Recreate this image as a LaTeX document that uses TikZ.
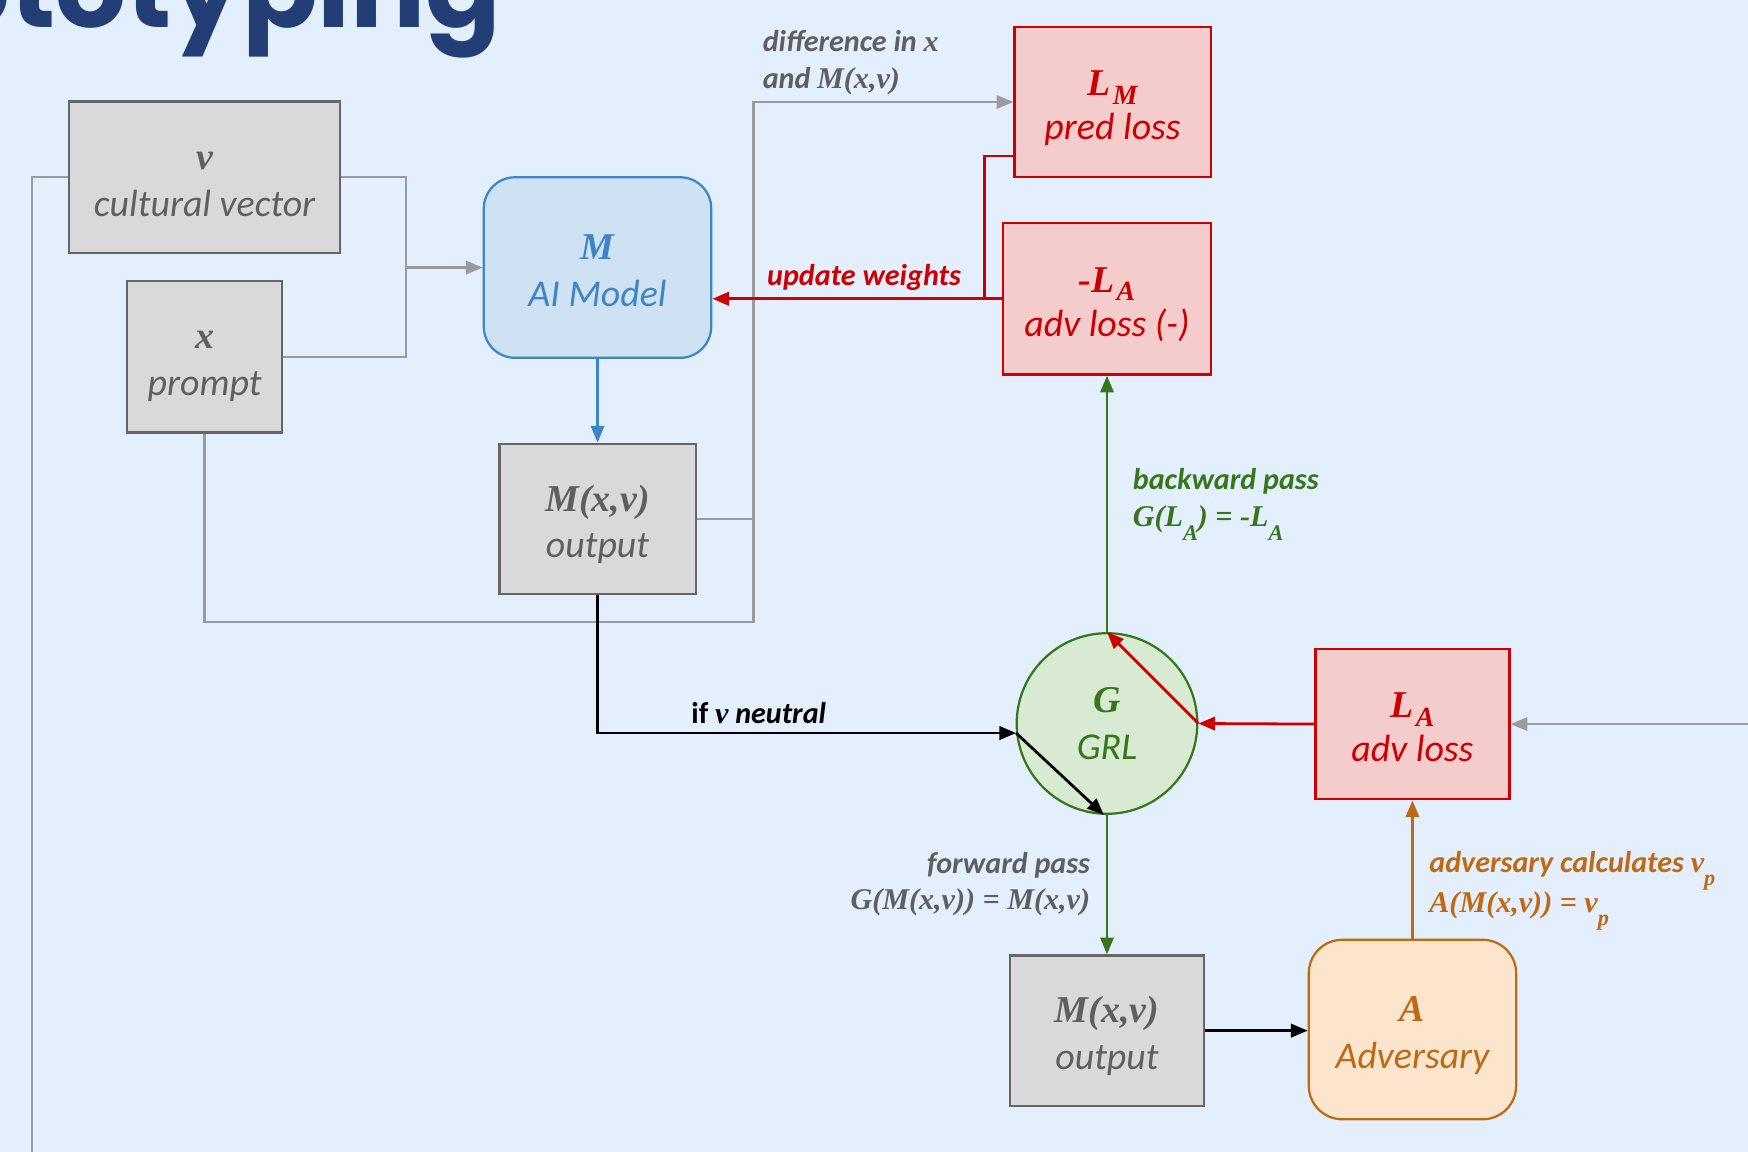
\documentclass[tikz,border=0pt]{standalone}
\usepackage{fontspec}
\setmainfont{Carlito}
\newfontfamily\symfont{Liberation Serif}
\newfontfamily\titlefont{Poppins}
\usetikzlibrary{arrows.meta,calc}

\definecolor{bg}{RGB}{227,239,253}
\definecolor{titleblue}{RGB}{34,62,117}
\definecolor{boxgray}{RGB}{217,217,217}
\definecolor{edgegray}{RGB}{102,102,102}
\definecolor{textgray}{RGB}{95,95,95}
\definecolor{wiregray}{RGB}{155,155,155}
\definecolor{mblue}{RGB}{61,133,198}
\definecolor{mbluefill}{RGB}{207,226,243}
\definecolor{lred}{RGB}{204,0,0}
\definecolor{lredfill}{RGB}{244,204,204}
\definecolor{ggreen}{RGB}{56,118,29}
\definecolor{ggreenfill}{RGB}{217,234,211}
\definecolor{aorange}{RGB}{190,106,20}
\definecolor{aorangefill}{RGB}{252,229,205}

\newcommand{\sym}[1]{{\symfont\bfseries\itshape #1}}
\newcommand{\symr}[1]{{\symfont\itshape #1}}
\newcommand{\lowsub}[1]{\raisebox{-.45em}{\fontsize{20}{20}\selectfont #1}}
\newcommand{\boxsub}[1]{\kern2pt\raisebox{-8pt}{\fontsize{25}{25}\selectfont #1}}

\tikzset{
  shapebase/.style={line width=2pt,align=center,inner sep=0pt,
    font=\fontsize{34}{42}\selectfont\itshape},
  box/.style={shapebase,draw=edgegray,fill=boxgray,text=textgray,
    text height=80pt,text depth=10pt},
  model/.style={box,draw=mblue,fill=mbluefill,text=mblue,rounded corners=28pt},
  loss/.style={shapebase,draw=lred,fill=lredfill,text=lred,
    text height=78pt,text depth=10pt},
  grl/.style={shapebase,circle,draw=ggreen,fill=ggreenfill,text=ggreen},
  advbox/.style={box,draw=aorange,fill=aorangefill,text=aorange,rounded corners=30pt},
  wire/.style={draw=wiregray,line width=2pt},
  tip/.style={-{Triangle[length=15pt,width=12pt]}},
  lbl/.style={inner sep=0pt,align=left,font=\fontsize{27}{33}\selectfont\bfseries\itshape}
}

\begin{document}
\begin{tikzpicture}[x=1pt,y=-1pt]
  \fill[bg] (0,0) rectangle (1568,1033);
  \useasboundingbox (0,0) rectangle (1568,1033);

  \node[anchor=base east,inner sep=0pt,text=titleblue,font=\fontsize{100}{100}\selectfont\titlefont\bfseries] (title) at (450,25) {Prototyping};

  \node[box,minimum width=243pt,minimum height=136pt] (v) at (183.5,159) {\sym{v}\\cultural vector};
  \node[box,minimum width=139pt,minimum height=136pt] (x) at (183.5,320) {\sym{x}\\prompt};
  \node[model,minimum width=204pt,minimum height=162pt] (m) at (536,240) {\sym{M}\\AI Model};
  \node[box,minimum width=176pt,minimum height=135pt] (out) at (536,465.5) {\sym{M(x,v)}\\output};
  \node[loss,minimum width=176pt,minimum height=135pt] (lm) at (998,91.5) {\sym{L\boxsub{M}}\\[-2pt]pred loss};
  \node[loss,minimum width=186pt,minimum height=136pt] (nla) at (993,268) {\sym{-L\boxsub{A}}\\[-2pt]adv loss (-)};
  \node[grl,minimum size=162pt] (g) at (993,649) {\sym{G}\\GRL};
  \node[loss,minimum width=174pt,minimum height=135pt] (la) at (1267,649.5) {\sym{L\boxsub{A}}\\[-2pt]adv loss};
  \node[box,minimum width=174pt,minimum height=135pt] (outb) at (993,924.5) {\sym{M(x,v)}\\output};
  \node[advbox,minimum width=186pt,minimum height=161pt] (adv) at (1267,923.5) {\sym{A}\\Adversary};

  \coordinate (jn) at (364,240);
  \coordinate (cx) at (676,558);
  \coordinate (cr) at (883,268);
  \coordinate (vdown) at (29,1045);
  \coordinate (rin) at (1580,649.5);

  \draw[wire] (v.east) -| (jn) |- (x.east);
  \draw[wire,tip] (jn) -- (m.west);
  \draw[wire] (v.west) -| (vdown);
  \draw[wire,tip] (x.south) |- (cx) |- (lm.west);
  \draw[wire] (out.east) -- (out.east -| cx);
  \draw[wire,tip] (rin) -- (la.east);

  \draw[draw=lred,line width=2.5pt,tip] (nla.west) -- (nla.west -| m.east);
  \draw[draw=lred,line width=2.5pt] ($(lm.south west)+(0,-20)$) -| (cr);
  \draw[draw=lred,line width=2.5pt,tip] (la.west) -- (g.east);
  \draw[draw=lred,line width=2.5pt,tip] (g.east) -- (g.north);

  \draw[draw=mblue,line width=2pt,tip] (m) -- (out);
  \draw[line width=2.5pt,tip] (out.south) |- (g.186);
  \draw[line width=2.5pt,tip] (g.186) -- (g.-92);
  \draw[draw=ggreen,line width=2pt,tip] (g.south) -- (outb.north);
  \draw[draw=ggreen,line width=2pt,tip] (g.north) -- (nla.south);
  \draw[draw=aorange,line width=2.5pt,tip] (adv.north) -- (la.south);
  \draw[line width=2.5pt,tip] (outb.east) -- (outb.east -| adv.west);

  \node[lbl,text=textgray,anchor=west] (diff) at (684,56) {difference in \symr{x}\\and \symr{M(x,v)}};
  \node[lbl,text=lred,anchor=west] (upd) at (688,249) {update weights};
  \node[lbl,anchor=west] (neutral) at (620,640) {{\upshape if} \symr{v} neutral};
  \node[lbl,text=ggreen,anchor=west] (back) at (1016,452.5) {backward pass\\\symr{G(L\lowsub{A}) = -L\lowsub{A}}};
  \node[lbl,text=textgray,anchor=east,align=right] (fwd) at (978,793) {forward pass\\\symr{G(M(x,v)) = M(x,v)}};
  \node[lbl,text=aorange,anchor=west] (calc) at (1282,799) {adversary calculates \symr{v\lowsub{p}}\\\symr{A(M(x,v)) = v\lowsub{p}}};
\end{tikzpicture}
\end{document}
